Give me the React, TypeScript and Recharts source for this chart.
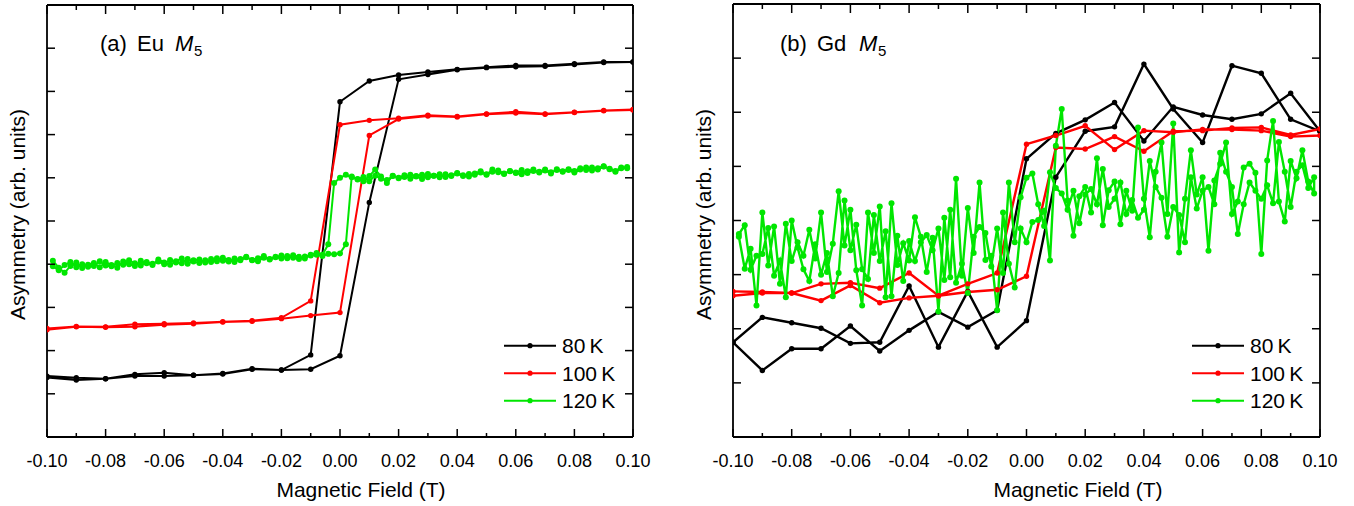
import { LineChart, Line, XAxis, YAxis, Legend } from "recharts";

const FONT = '"Liberation Sans", Arial, Helvetica, sans-serif';

// field steps (T) of the 80 K / 100 K sweeps, also the x tick values
const FIELD = [
  -0.1, -0.09, -0.08, -0.07, -0.06, -0.05, -0.04, -0.03, -0.02, -0.01, 0,
  0.01, 0.02, 0.03, 0.04, 0.05, 0.06, 0.07, 0.08, 0.09, 0.1,
];
const X_TICKS = FIELD;
const EU_Y_TICKS = [1, 2, 3, 4, 5, 6, 7, 8, 9];
const GD_Y_TICKS = [1, 2, 3, 4, 5, 6, 7];
const SERIES_NAMES = ["80\u2009K", "100\u2009K", "120\u2009K"];

// 120 K sweeps were taken in 2 mT steps from -0.098 to 0.098 T
const GREEN_FIELD = Array.from({ length: 99 }, (_, i) => Math.round((-0.098 + 0.002 * i) * 1000) / 1000);

// (a) Eu M5 — "up" = field increasing, "down" = field decreasing (both listed in field order)
const euBlackUp = [1.38, 1.32, 1.35, 1.41, 1.41, 1.43, 1.46, 1.57, 1.55, 1.57, 1.88, 5.43, 8.28, 8.39, 8.5, 8.55, 8.57, 8.58, 8.62, 8.67, 8.68];
const euBlackDown = [1.41, 1.37, 1.35, 1.45, 1.49, 1.43, 1.47, 1.58, 1.55, 1.9, 7.76, 8.24, 8.38, 8.45, 8.51, 8.56, 8.6, 8.6, 8.64, 8.68, 8.68];
const euRedUp = [2.48, 2.55, 2.54, 2.55, 2.6, 2.62, 2.66, 2.68, 2.74, 2.81, 2.88, 6.98, 7.36, 7.43, 7.41, 7.47, 7.5, 7.47, 7.51, 7.55, 7.57];
const euRedDown = [2.51, 2.56, 2.55, 2.61, 2.62, 2.64, 2.67, 2.69, 2.76, 3.15, 7.23, 7.33, 7.38, 7.45, 7.42, 7.48, 7.53, 7.48, 7.52, 7.56, 7.58];
const euGreenUp = [
  3.95, 3.86, 3.98, 4.05, 3.93, 4.0, 3.94, 3.96, 4.07, 3.97,
  3.95, 4.03, 3.99, 4.09, 4.02, 3.97, 4.05, 4.01, 4.06, 4.0,
  4.1, 4.04, 4.02, 4.12, 4.06, 4.03, 4.09, 4.05, 4.14, 4.08,
  4.06, 4.13, 4.09, 4.16, 4.1, 4.07, 4.15, 4.12, 4.17, 4.13,
  4.19, 4.15, 4.12, 4.18, 4.2, 4.22, 4.19, 4.24, 4.23, 4.25,
  4.46, 6.03, 5.96, 6.02, 5.92, 6.05, 5.98, 5.95, 6.04, 6.0,
  6.06, 5.98, 6.03, 6.07, 6.01, 6.05, 6.08, 6.02, 6.06, 6.1,
  6.04, 6.09, 6.07, 6.12, 6.08, 6.14, 6.17, 6.1, 6.15, 6.12,
  6.18, 6.11, 6.16, 6.14, 6.19, 6.13, 6.18, 6.15, 6.2, 6.16,
  6.22, 6.18, 6.24, 6.19, 6.26, 6.21, 6.16, 6.24, 6.22,
];
const euGreenDown = [
  4.08, 3.92, 3.8, 3.96, 4.04, 3.91, 3.99, 4.03, 3.93, 4.05,
  3.98, 3.92, 4.06, 4.0, 3.96, 4.08, 4.02, 3.98, 4.11, 4.04,
  3.99, 4.07, 4.13, 4.01, 4.09, 4.11, 4.04, 4.12, 4.07, 4.15,
  4.1, 4.05, 4.12, 4.17, 4.09, 4.14, 4.19, 4.11, 4.16, 4.2,
  4.14, 4.21, 4.17, 4.13, 4.22, 4.26, 4.22, 4.46, 5.88, 6.0,
  6.07, 6.01, 5.97, 5.92, 6.04, 6.19, 6.03, 5.88, 6.05, 5.99,
  6.02, 6.07, 6.04, 5.97, 6.09, 6.05, 6.01, 6.08, 6.04, 6.11,
  6.06, 6.03, 6.1, 6.15, 6.07, 6.19, 6.13, 6.09, 6.16, 6.11,
  6.08, 6.15, 6.19, 6.12, 6.17, 6.1, 6.2, 6.14, 6.18, 6.12,
  6.19, 6.24, 6.17, 6.22, 6.27, 6.2, 6.14, 6.22, 6.25,
];

// (b) Gd M5
const gdBlackUp = [1.75, 2.21, 2.11, 2.01, 1.73, 1.75, 2.79, 1.66, 2.69, 1.66, 2.15, 4.8, 5.65, 5.73, 6.89, 6.06, 5.44, 6.86, 6.72, 5.87, 5.65];
const gdBlackDown = [1.75, 1.23, 1.63, 1.63, 2.05, 1.59, 1.97, 2.31, 2.03, 2.34, 5.14, 5.61, 5.86, 6.18, 5.47, 6.1, 5.95, 5.87, 5.97, 6.35, 5.65];
const gdRedUp = [2.61, 2.66, 2.66, 2.52, 2.8, 2.48, 2.57, 2.61, 2.68, 2.72, 2.97, 5.35, 5.32, 5.55, 5.28, 5.65, 5.66, 5.71, 5.72, 5.58, 5.69];
const gdRedDown = [2.69, 2.68, 2.66, 2.83, 2.85, 2.75, 3.03, 2.61, 2.83, 3.03, 5.41, 5.57, 5.75, 5.31, 5.66, 5.63, 5.68, 5.68, 5.66, 5.55, 5.57];
const gdGreenUp = [
  3.7, 3.11, 3.48, 2.43, 4.15, 3.17, 3.89, 2.83, 3.94, 3.25,
  3.6, 3.35, 3.83, 3.3, 4.15, 3.05, 3.57, 4.54, 3.54, 4.2,
  3.08, 2.43, 4.15, 3.4, 4.26, 2.58, 4.32, 3.18, 3.58, 3.26,
  4.06, 3.7, 3.05, 3.68, 2.32, 4.05, 2.95, 4.77, 2.98, 4.23,
  3.4, 4.7, 3.27, 3.35, 2.34, 4.15, 3.2, 2.76, 3.85, 3.6,
  3.97, 4.01, 4.18, 3.26, 5.38, 6.06, 4.37, 3.72, 4.45, 4.62,
  4.15, 5.15, 3.91, 4.56, 4.72, 3.93, 4.55, 4.18, 5.72, 4.4,
  3.69, 4.9, 5.44, 4.12, 5.79, 3.41, 4.4, 5.3, 4.48, 4.8,
  3.44, 4.74, 5.05, 5.44, 4.12, 4.35, 4.98, 5.05, 4.88, 3.38,
  5.11, 5.84, 4.35, 3.98, 5.1, 4.78, 5.3, 4.72, 4.5,
];
const gdGreenDown = [
  3.75, 3.91, 3.09, 3.35, 3.38, 3.86, 2.98, 3.26, 2.58, 4.0,
  3.5, 3.1, 2.88, 3.56, 3.0, 3.4, 2.6, 3.03, 4.37, 3.45,
  3.92, 3.1, 2.92, 4.1, 3.25, 3.8, 2.6, 3.72, 2.88, 3.62,
  3.25, 3.6, 3.73, 3.45, 3.85, 2.9, 4.2, 2.85, 3.2, 2.66,
  3.7, 3.88, 3.77, 3.15, 3.85, 3.03, 4.7, 3.6, 4.43, 4.79,
  4.87, 4.3, 3.9, 4.89, 4.6, 4.5, 4.2, 4.55, 3.95, 4.48,
  4.58, 4.3, 4.95, 4.25, 4.4, 4.7, 4.12, 4.38, 4.05, 4.2,
  5.1, 4.62, 4.42, 3.7, 4.25, 4.1, 3.6, 4.8, 4.22, 4.55,
  4.62, 4.3, 5.25, 4.9, 4.62, 3.75, 4.3, 4.7, 4.55, 4.4,
  4.65, 4.32, 5.45, 4.9, 4.25, 4.9, 5.02, 4.6, 4.8,
];

function loop(field: number[], up: number[], down: number[]) {
  const a = field.map((x, i) => ({ x, y: up[i] }));
  const b = field.map((x, i) => ({ x, y: down[i] })).reverse();
  return a.concat(b);
}

const COLORS = ["#000000", "#ff0000", "#00e600"];
const AXIS = { stroke: "#000", strokeWidth: 1.8 };

const isMajor = (v: number) => Math.round(v * 100) % 2 === 0;

const BottomTick = (props: any) => {
  const { x, y, payload } = props;
  const major = isMajor(payload.value);
  return (
    <g>
      <line x1={x} x2={x} y1={y} y2={y - (major ? 8 : 4)} stroke="#000" strokeWidth={1.5} />
      {major && (
        <text x={x} y={y + 30} textAnchor="middle" fontSize={18} fontFamily={FONT} fill="#000">
          {payload.value.toFixed(2)}
        </text>
      )}
    </g>
  );
};

const TopTick = (props: any) => {
  const { x, y, payload } = props;
  const major = isMajor(payload.value);
  return <line x1={x} x2={x} y1={y} y2={y + (major ? 9 : 5)} stroke="#000" strokeWidth={1.5} />;
};

const LeftTick = (props: any) => {
  const { x, y } = props;
  return <line x1={x} x2={x + 8} y1={y} y2={y} stroke="#000" strokeWidth={1.5} />;
};

const RightTick = (props: any) => {
  const { x, y } = props;
  return <line x1={x} x2={x - 8} y1={y} y2={y} stroke="#000" strokeWidth={1.5} />;
};

const renderLegend = (props: any) => {
  const payload = [...(props.payload || [])].sort(
    (a: any, b: any) => SERIES_NAMES.indexOf(a.value) - SERIES_NAMES.indexOf(b.value)
  );
  return (
    <svg width={130} height={86}>
      {payload.map((e: any, i: number) => {
        const cy = 15.7 + i * 27.5;
        return (
          <g key={i}>
            <line x1={4} x2={56} y1={cy} y2={cy} stroke={e.color} strokeWidth={2} />
            <circle cx={30} cy={cy} r={2.6} fill={e.color} />
            <text x={62} y={cy + 7.5} fontSize={21} fontFamily={FONT} fill="#000">
              {e.value}
            </text>
          </g>
        );
      })}
    </svg>
  );
};

type PanelProps = {
  width: number;
  margin: { top: number; right: number; bottom: number; left: number };
  yMax: number;
  yTicks: number[];
  series: { x: number; y: number }[][];
  lineWidth: number;
  legendLeft: number;
};

function Panel({ width, margin, yMax, yTicks, series, lineWidth, legendLeft }: PanelProps) {
  return (
    <LineChart width={width} height={506} margin={margin}>
      <XAxis
        xAxisId="b"
        type="number"
        dataKey="x"
        domain={[-0.1, 0.1]}
        ticks={X_TICKS}
        interval={0}
        height={1}
        tickSize={0}
        tickMargin={0}
        tickLine={false}
        axisLine={AXIS}
        tick={BottomTick}
        allowDataOverflow
      />
      <XAxis
        xAxisId="t"
        orientation="top"
        type="number"
        dataKey="x"
        domain={[-0.1, 0.1]}
        ticks={X_TICKS}
        interval={0}
        height={1}
        tickSize={0}
        tickMargin={0}
        tickLine={false}
        axisLine={AXIS}
        tick={TopTick}
        allowDataOverflow
      />
      <YAxis
        yAxisId="l"
        type="number"
        domain={[0, yMax]}
        ticks={yTicks}
        interval={0}
        width={1}
        tickSize={0}
        tickMargin={0}
        tickLine={false}
        axisLine={AXIS}
        tick={LeftTick}
        allowDataOverflow
      />
      <YAxis
        yAxisId="r"
        orientation="right"
        type="number"
        domain={[0, yMax]}
        ticks={yTicks}
        interval={0}
        width={1}
        tickSize={0}
        tickMargin={0}
        tickLine={false}
        axisLine={AXIS}
        tick={RightTick}
        allowDataOverflow
      />
      {series.map((data, i) => (
        <Line
          key={SERIES_NAMES[i]}
          xAxisId="b"
          yAxisId="l"
          data={data}
          dataKey="y"
          name={SERIES_NAMES[i]}
          type="linear"
          stroke={COLORS[i]}
          strokeWidth={lineWidth}
          dot={{ r: i === 2 ? 3 : 2.7, fill: COLORS[i], stroke: COLORS[i], strokeWidth: 0 }}
          activeDot={false}
          isAnimationActive={false}
        />
      ))}
      <Legend
        layout="vertical"
        align="center"
        verticalAlign="middle"
        content={renderLegend}
        wrapperStyle={{ left: legendLeft, top: 330, width: 130, height: 86 }}
      />
    </LineChart>
  );
}

export default function App() {
  const euSeries = [
    loop(FIELD, euBlackUp, euBlackDown),
    loop(FIELD, euRedUp, euRedDown),
    loop(GREEN_FIELD, euGreenUp, euGreenDown),
  ];
  const gdSeries = [
    loop(FIELD, gdBlackUp, gdBlackDown),
    loop(FIELD, gdRedUp, gdRedDown),
    loop(GREEN_FIELD, gdGreenUp, gdGreenDown),
  ];
  return (
    <div style={{ position: "absolute", left: 0, top: 0, width: 1354, height: 506, background: "#fff", fontFamily: FONT }}>
      <div style={{ position: "absolute", left: 0, top: 0 }}>
        <Panel
          width={680}
          margin={{ top: 4, right: 46, bottom: 68, left: 46 }}
          yMax={10}
          yTicks={EU_Y_TICKS}
          series={euSeries}
          lineWidth={2}
          legendLeft={500}
        />
      </div>
      <div style={{ position: "absolute", left: 680, top: 0 }}>
        <Panel
          width={674}
          margin={{ top: 3, right: 33, bottom: 68, left: 52 }}
          yMax={8}
          yTicks={GD_Y_TICKS}
          series={gdSeries}
          lineWidth={2.4}
          legendLeft={508}
        />
      </div>
      <svg
        width={1354}
        height={506}
        style={{ position: "absolute", left: 0, top: 0, pointerEvents: "none" }}
        fontFamily={FONT}
      >
        <text x={361} y={497} textAnchor="middle" fontSize={21} fill="#000">Magnetic Field (T)</text>
        <text x={1078} y={497} textAnchor="middle" fontSize={21} fill="#000">Magnetic Field (T)</text>
        <text transform="translate(25,214.5) rotate(-90)" textAnchor="middle" fontSize={21} fill="#000">
          Asymmetry (arb. units)
        </text>
        <text transform="translate(711,214.5) rotate(-90)" textAnchor="middle" fontSize={21} fill="#000">
          Asymmetry (arb. units)
        </text>
        <text y={51} fontSize={22} fill="#000">
          <tspan x={100}>(a)</tspan>
          <tspan x={137}>Eu</tspan>
          <tspan x={175} fontStyle="italic">M</tspan>
          <tspan x={194} dy={5} fontSize={15}>5</tspan>
        </text>
        <text y={51} fontSize={22} fill="#000">
          <tspan x={780}>(b)</tspan>
          <tspan x={817}>Gd</tspan>
          <tspan x={859} fontStyle="italic">M</tspan>
          <tspan x={878} dy={5} fontSize={15}>5</tspan>
        </text>
      </svg>
    </div>
  );
}
